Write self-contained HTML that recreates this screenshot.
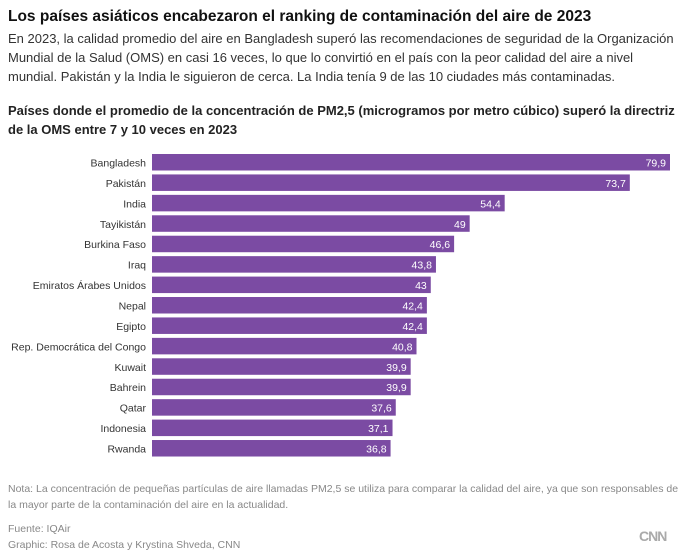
<!DOCTYPE html>
<html><head><meta charset="utf-8"><style>
body{margin:0;width:680px;height:558px;background:#fff;font-family:"Liberation Sans",sans-serif;position:relative;overflow:hidden;color:#262626}
.t{position:absolute;left:8px;white-space:nowrap}
</style></head><body>
<div class="t" style="top:8px;font-size:15.5px;font-weight:bold;color:#111">Los países asiáticos encabezaron el ranking de contaminación del aire de 2023</div>
<div class="t" style="top:29px;font-size:13px;line-height:19px;color:#333;white-space:normal;width:670px">En 2023, la calidad promedio del aire en Bangladesh superó las recomendaciones de seguridad de la Organización Mundial de la Salud (OMS) en casi 16 veces, lo que lo convirtió en el país con la peor calidad del aire a nivel mundial. Pakistán y la India le siguieron de cerca. La India tenía 9 de las 10 ciudades más contaminadas.</div>
<div class="t" style="top:101px;font-size:13px;line-height:19px;font-weight:bold;color:#222;white-space:normal;width:672px">Países donde el promedio de la concentración de PM2,5 (microgramos por metro cúbico) superó la directriz de la OMS entre 7 y 10 veces en 2023</div>
<svg id="chart" width="680" height="558" style="position:absolute;left:0;top:0"></svg>
<div class="t" style="top:481px;font-size:10.5px;line-height:16px;color:#888;white-space:normal;width:672px">Nota: La concentración de pequeñas partículas de aire llamadas PM2,5 se utiliza para comparar la calidad del aire, ya que son responsables de la mayor parte de la contaminación del aire en la actualidad.</div>
<div class="t" style="top:521px;font-size:10.5px;line-height:16px;color:#888">Fuente: IQAir<br>Graphic: Rosa de Acosta y Krystina Shveda, CNN</div>
<div class="t" style="left:639px;top:528px;font-size:14px;font-weight:bold;color:#aaa;letter-spacing:-1px">CNN</div>
<script>
const categories=["Bangladesh","Pakistán","India","Tayikistán","Burkina Faso","Iraq","Emiratos Árabes Unidos","Nepal","Egipto","Rep. Democrática del Congo","Kuwait","Bahrein","Qatar","Indonesia","Rwanda"];
const values=[79.9,73.7,54.4,49,46.6,43.8,43,42.4,42.4,40.8,39.9,39.9,37.6,37.1,36.8];
const labels=["79,9","73,7","54,4","49","46,6","43,8","43","42,4","42,4","40,8","39,9","39,9","37,6","37,1","36,8"];
const svg=document.getElementById('chart');const NS="http://www.w3.org/2000/svg";
const x0=152,xs=v=>x0+v*(518/79.9);
const ys=i=>154+i*20.43;
categories.forEach((c,i)=>{
 const r=document.createElementNS(NS,'rect');
 r.setAttribute('x',x0);r.setAttribute('y',ys(i));r.setAttribute('width',xs(values[i])-x0);r.setAttribute('height',16.5);r.setAttribute('fill','#7b4ba3');
 
 
 svg.appendChild(r);
 const t=document.createElementNS(NS,'text');
 t.setAttribute('x',146);t.setAttribute('y',ys(i)+12.5);t.setAttribute('text-anchor','end');t.setAttribute('font-size','10.5');t.setAttribute('fill','#333');t.textContent=c;
 
 
 svg.appendChild(t);
 const v=document.createElementNS(NS,'text');
 v.setAttribute('x',xs(values[i])-4);v.setAttribute('y',ys(i)+12.5);v.setAttribute('text-anchor','end');v.setAttribute('font-size','10.5');v.setAttribute('fill','#fff');v.textContent=labels[i];
 
 
 svg.appendChild(v);
});
</script>
</body></html>
